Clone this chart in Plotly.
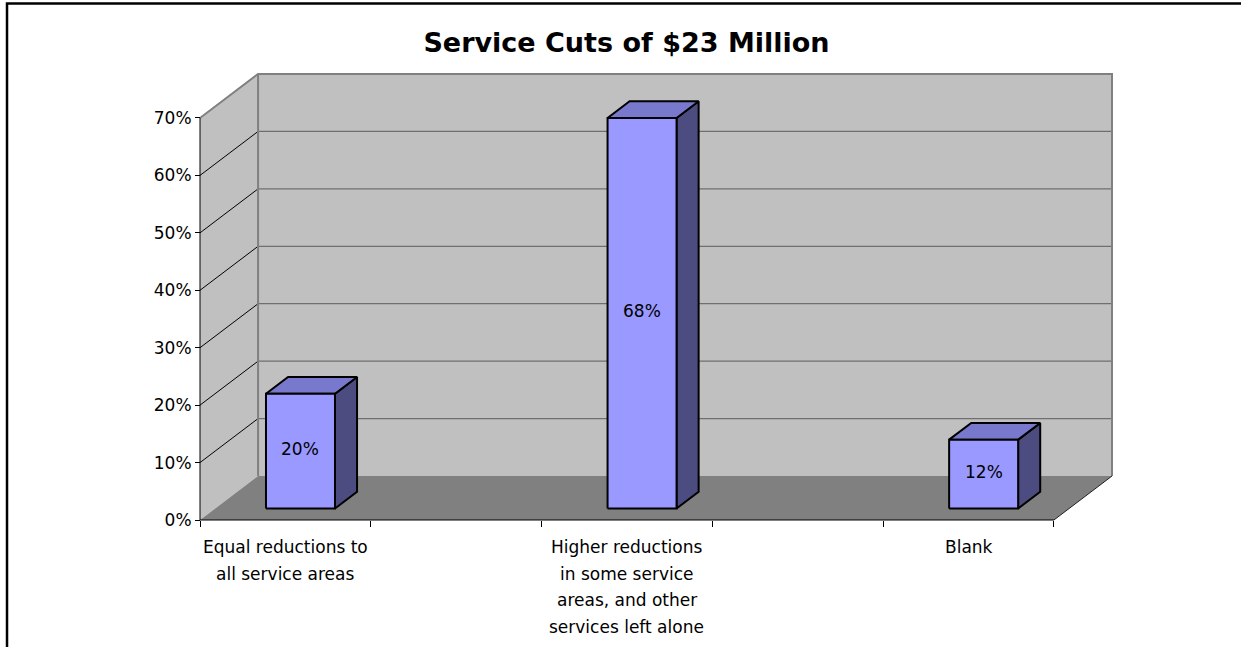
import plotly.graph_objects as go

# ---- data -------------------------------------------------------------
categories = [
    "Equal reductions to<br>all service areas",
    "Higher reductions<br>in some service<br>areas, and other<br>services left alone",
    "Blank",
]
values = [20, 68, 12]
value_labels = ["20%", "68%", "12%"]
y_tick_values = [0, 10, 20, 30, 40, 50, 60, 70]
y_tick_labels = ["0%", "10%", "20%", "30%", "40%", "50%", "60%", "70%"]
title_text = "Service Cuts of $23 Million"

# ---- 3-D box geometry (data units) ------------------------------------
X_LO, X_HI = -0.25, 2.25      # floor front edge, in category units
Y_TOP = 70                    # top of the walls (%)
DX, DY = 0.17, 7.66           # depth offset of the back wall
BAR_HALF = 0.101              # half width of a bar
D0, D1 = 0.26, 0.64           # bar front / back depth (fraction of DX, DY)

# ---- page layout ------------------------------------------------------
W, H = 1241, 647
AX_LEFT_PX, AX_BOTTOM_PX = 200, 520
PX_X, PX_Y = 341.6, 5.743     # pixels per category unit / per percent
PAD = 12

plot_left = AX_LEFT_PX - PAD
plot_right = AX_LEFT_PX + (X_HI + DX - X_LO) * PX_X + PAD
plot_bottom = AX_BOTTOM_PX + PAD
plot_top = AX_BOTTOM_PX - (Y_TOP + DY) * PX_Y - PAD
plot_w = plot_right - plot_left
plot_h = plot_bottom - plot_top
x_range = [X_LO - PAD / PX_X, X_HI + DX + PAD / PX_X]
y_range = [-PAD / PX_Y, Y_TOP + DY + PAD / PX_Y]

FONT = "DejaVu Sans, Liberation Sans, Arial, sans-serif"
WALL = "#c0c0c0"
FLOOR = "#808080"
EDGE = "#808080"
GRID = "#6f6f6f"
FRONT, TOP, SIDE = "#9999ff", "#7878cc", "#4c4c80"

fig = go.Figure()


def poly(xs, ys, fill, line_color, line_width):
    fig.add_trace(go.Scatter(
        x=list(xs) + [xs[0]], y=list(ys) + [ys[0]],
        mode="lines", fill="toself", fillcolor=fill,
        line=dict(color=line_color, width=line_width),
        hoverinfo="skip", showlegend=False,
    ))


def seg(xs, ys, color, width):
    fig.add_trace(go.Scatter(
        x=xs, y=ys, mode="lines",
        line=dict(color=color, width=width),
        hoverinfo="skip", showlegend=False,
    ))


# back wall
poly([X_LO + DX, X_HI + DX, X_HI + DX, X_LO + DX],
     [DY, DY, Y_TOP + DY, Y_TOP + DY], WALL, WALL, 0)
# side wall
poly([X_LO, X_LO + DX, X_LO + DX, X_LO],
     [0, DY, Y_TOP + DY, Y_TOP], WALL, WALL, 0)

# gridlines on both walls
for v in y_tick_values[1:-1]:
    seg([X_LO + DX, X_HI + DX], [v + DY, v + DY], GRID, 1.2)
    seg([X_LO, X_LO + DX], [v, v + DY], "black", 1)

# floor
poly([X_LO, X_HI, X_HI + DX, X_LO + DX], [0, 0, DY, DY], FLOOR, FLOOR, 0)

# wall edges
seg([X_LO, X_LO + DX, X_HI + DX, X_HI + DX],
    [Y_TOP, Y_TOP + DY, Y_TOP + DY, DY], EDGE, 2)
seg([X_LO + DX, X_LO + DX], [DY, Y_TOP + DY], EDGE, 2)
seg([X_HI, X_HI + DX], [0, DY], "#202020", 1)
seg([X_LO, X_LO, X_HI], [Y_TOP, 0, 0], "black", 1)

# bars: front, top and right faces
for i, v in enumerate(values):
    xl, xr = i - BAR_HALF, i + BAR_HALF
    fx0, fy0 = D0 * DX, D0 * DY
    bx0, by0 = D1 * DX, D1 * DY
    poly([xr + fx0, xr + bx0, xr + bx0, xr + fx0],
         [fy0, by0, v + by0, v + fy0], SIDE, "black", 2)
    poly([xl + fx0, xr + fx0, xr + bx0, xl + bx0],
         [v + fy0, v + fy0, v + by0, v + by0], TOP, "black", 2)
    poly([xl + fx0, xr + fx0, xr + fx0, xl + fx0],
         [fy0, fy0, v + fy0, v + fy0], FRONT, "black", 2)

annotations = []
for i, (v, lab) in enumerate(zip(values, value_labels)):
    annotations.append(dict(
        x=i + D0 * DX, y=v / 2 + D0 * DY, xref="x", yref="y",
        text=lab, showarrow=False, yshift=2,
        font=dict(family=FONT, size=17, color="black"),
    ))

# category labels, one annotation per line
for i, cat in enumerate(categories):
    for j, line in enumerate(cat.split("<br>")):
        annotations.append(dict(
            x=i, y=0, xref="x", yref="y", text=line, showarrow=False,
            yanchor="middle", yshift=-27 - 26.5 * j,
            font=dict(family=FONT, size=17, color="black"),
        ))


def px_to_paper_x(px):
    return (px - plot_left) / plot_w


def px_to_paper_y(py):
    return (plot_bottom - py) / plot_h


fig.update_layout(
    width=W, height=H,
    margin=dict(l=plot_left, r=W - plot_right, t=plot_top, b=H - plot_bottom,
                autoexpand=False),
    paper_bgcolor="white", plot_bgcolor="white",
    title=dict(text="<b>" + title_text + "</b>", x=626.5 / W, y=1 - 43 / H,
               xref="container", yref="container",
               xanchor="center", yanchor="middle",
               font=dict(family=FONT, size=27, color="black")),
    xaxis=dict(range=x_range, anchor="free", position=PAD / plot_h,
               tickvals=[X_LO + 0.5 * k for k in range(6)],
               showticklabels=False, ticks="outside", ticklen=6,
               tickcolor="black", tickwidth=1,
               showgrid=False, zeroline=False, showline=False, fixedrange=True),
    yaxis=dict(range=y_range, anchor="free", position=PAD / plot_w,
               tickvals=y_tick_values, ticktext=y_tick_labels,
               ticks="outside", ticklen=5, tickcolor="black", tickwidth=1,
               tickfont=dict(family=FONT, size=17, color="black"),
               showgrid=False, zeroline=False, showline=False, fixedrange=True),
    annotations=annotations,
    shapes=[dict(type="rect", xref="paper", yref="paper",
                 x0=px_to_paper_x(7), x1=px_to_paper_x(1270),
                 y0=px_to_paper_y(680), y1=px_to_paper_y(3.5),
                 line=dict(color="black", width=2.5))],
)

fig.write_html("out.html")
